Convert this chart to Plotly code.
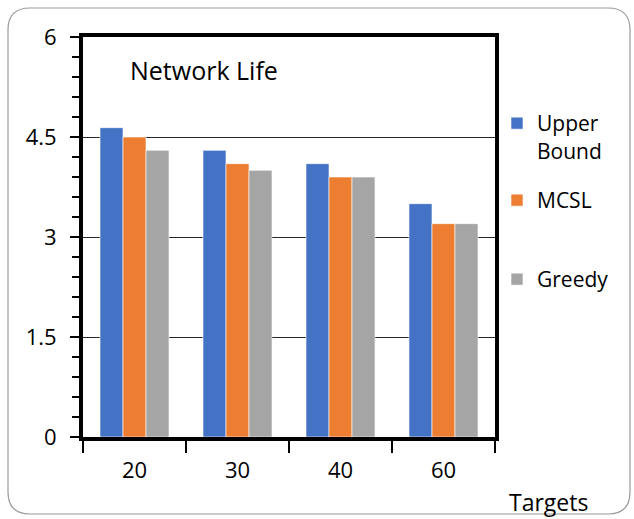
import plotly.graph_objects as go

# Network lifetime per number of targets
targets = ["20", "30", "40", "60"]
upper_bound = [4.64, 4.3, 4.1, 3.5]
mcsl = [4.5, 4.1, 3.9, 3.2]
greedy = [4.3, 4.0, 3.9, 3.2]

series_names = ["Upper<br>Bound", "MCSL", "Greedy"]
series_colors = ["#4472C4", "#ED7D31", "#A5A5A5"]
y_ticks = [0, 1.5, 3, 4.5, 6]
y_tick_text = ["0", "1.5", "3", "4.5", "6"]

W, H = 634, 519
L, R, T, B = 83, 495, 37, 437  # plot-area pixel box
FONT = "Open Sans"


def px_x(p):
    return (p - L) / (R - L)


def px_y(p):
    return (B - p) / (B - T)


fig = go.Figure()
legend_ids = ["legend", "legend2", "legend3"]
for name, vals, color, lg in zip(series_names, [upper_bound, mcsl, greedy], series_colors, legend_ids):
    fig.add_trace(go.Bar(
        x=targets, y=vals, name=name, legend=lg, showlegend=True,
        marker=dict(color=color, line=dict(color="white", width=0.6)),
    ))

legend_common = dict(
    font=dict(family=FONT, size=21, color="black"),
    bgcolor="rgba(0,0,0,0)", xanchor="left", yanchor="top",
    itemwidth=30, valign="top", tracegroupgap=0, visible=True,
)

# rounded outer frame
x0, x1, y0, y1, r = 8, 630, 8, 514, 22
pts = (
    f"M {px_x(x0 + r)},{px_y(y0)} L {px_x(x1 - r)},{px_y(y0)} "
    f"Q {px_x(x1)},{px_y(y0)} {px_x(x1)},{px_y(y0 + r)} "
    f"L {px_x(x1)},{px_y(y1 - r)} Q {px_x(x1)},{px_y(y1)} {px_x(x1 - r)},{px_y(y1)} "
    f"L {px_x(x0 + r)},{px_y(y1)} Q {px_x(x0)},{px_y(y1)} {px_x(x0)},{px_y(y1 - r)} "
    f"L {px_x(x0)},{px_y(y0 + r)} Q {px_x(x0)},{px_y(y0)} {px_x(x0 + r)},{px_y(y0)} Z"
)

fig.update_layout(
    width=W, height=H,
    margin=dict(l=L, r=W - R, t=T, b=H - B, pad=0),
    paper_bgcolor="white", plot_bgcolor="white",
    barmode="group", bargap=0.33, bargroupgap=0,
    showlegend=True,
    font=dict(family=FONT, size=21, color="black"),
    legend=dict(x=px_x(497), y=px_y(103), **legend_common),
    legend2=dict(x=px_x(497), y=px_y(180), **legend_common),
    legend3=dict(x=px_x(497), y=px_y(259), **legend_common),
    xaxis=dict(
        type="category", categoryorder="array", categoryarray=targets,
        tickson="boundaries", ticks="outside", ticklen=12, tickwidth=1.5,
        tickcolor="black", showline=True, linewidth=4, linecolor="black",
        mirror=True, showgrid=False,
        tickfont=dict(family=FONT, size=22, color="black"),
        ticklabelstandoff=11,
    ),
    yaxis=dict(
        range=[0, 6], tickvals=y_ticks, ticktext=y_tick_text,
        ticks="outside", ticklen=9, tickwidth=1.5, tickcolor="black",
        minor=dict(dtick=0.3, ticks="outside", ticklen=7, tickwidth=1.5,
                   tickcolor="black", showgrid=False),
        showline=True, linewidth=4, linecolor="black", mirror=True,
        showgrid=True, gridcolor="#262626", gridwidth=1.2, zeroline=False,
        tickfont=dict(family=FONT, size=22, color="black"),
        ticklabelstandoff=9,
    ),
    shapes=[dict(type="path", xref="paper", yref="paper", path=pts,
                 line=dict(color="#9a9a9a", width=1.2), layer="below")],
    annotations=[
        dict(text="Network Life", x=px_x(128), y=px_y(70), xref="paper", yref="paper",
             xanchor="left", yanchor="middle", showarrow=False,
             font=dict(family=FONT, size=25, color="black")),
        dict(text="Targets", x=px_x(590), y=px_y(502), xref="paper", yref="paper",
             xanchor="right", yanchor="middle", showarrow=False,
             font=dict(family=FONT, size=23, color="black")),
    ],
)

fig.write_html("out.html")
